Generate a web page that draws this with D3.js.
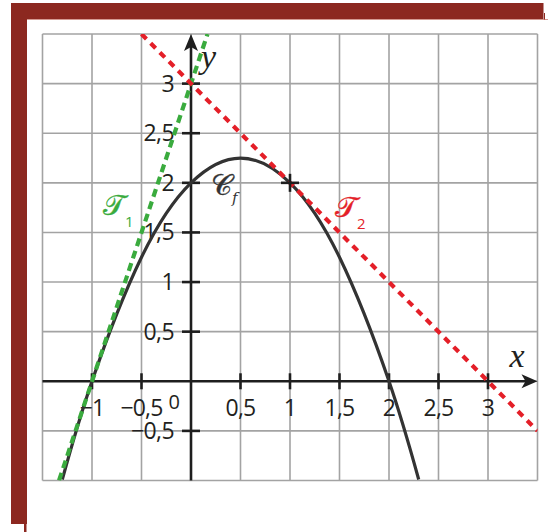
<!DOCTYPE html>
<html>
<head>
<meta charset="utf-8">
<script src="https://cdn.jsdelivr.net/npm/d3@7"></script>
<style>
  html, body { margin: 0; padding: 0; background: #fff; }
  svg { display: block; }
</style>
</head>
<body>
<div id="chart"></div>
<script>
// values
var gridX = [-1.5, -1, -0.5, 0, 0.5, 1, 1.5, 2, 2.5, 3, 3.5];
var gridY = [-1, -0.5, 0, 0.5, 1, 1.5, 2, 2.5, 3, 3.5];
var xTicks = [-1, -0.5, 0.5, 1, 1.5, 2, 2.5, 3];
var xTickLabels = ["−1", "−0,5", "0,5", "1", "1,5", "2", "2,5", "3"];
var yTicks = [-0.5, 0.5, 1, 1.5, 2, 2.5, 3];
var yTickLabels = ["−0,5", "0,5", "1", "1,5", "2", "2,5", "3"];

// curve C_f
var curveX = [-1.3, -1, -0.5, 0, 0.5, 1, 1.5, 2, 2.3];
var curveY = [-0.99, 0, 1.25, 2, 2.25, 2, 1.25, 0, -0.99];
// tangent T1 (green) and T2 (red)
var t1X = [-1.333, 0.167];
var t1Y = [-1, 3.5];
var t2X = [-0.5, 3.5];
var t2Y = [3.5, -0.5];
// marked point
var markX = [1];
var markY = [2];

var width = 548, height = 532;

var svg = d3.select("#chart").append("svg")
    .attr("width", width)
    .attr("height", height);

// frame (dark red corner)
var frameColor = "#8c2820";
svg.append("rect").attr("x", 11).attr("y", 3).attr("width", 532.5).attr("height", 16).attr("fill", frameColor);
svg.append("rect").attr("x", 11).attr("y", 3).attr("width", 16).attr("height", 521).attr("fill", frameColor);
svg.append("rect").attr("x", 24).attr("y", 524).attr("width", 2.5).attr("height", 8).attr("fill", frameColor);
svg.append("line").attr("x1", 27).attr("x2", 548).attr("y1", 19.5).attr("y2", 19.5)
    .attr("stroke", "#d49a92").attr("stroke-width", 1);
svg.append("line").attr("x1", 544.5).attr("x2", 544.5).attr("y1", 13).attr("y2", 19.5)
    .attr("stroke", "#8c2820").attr("stroke-width", 1);

// scales
var x = d3.scaleLinear().domain([-1.5, 3.5]).range([42.5, 537.5]);
var y = d3.scaleLinear().domain([-1, 3.5]).range([480.5, 34]);

var chart = svg.append("g");

// grid
chart.selectAll(".gx").data(gridX).enter().append("line")
    .attr("x1", d => x(d)).attr("x2", d => x(d))
    .attr("y1", y(-1)).attr("y2", y(3.5))
    .attr("stroke", "#a3a3a3").attr("stroke-width", 1.6);
chart.selectAll(".gy").data(gridY).enter().append("line")
    .attr("y1", d => y(d)).attr("y2", d => y(d))
    .attr("x1", x(-1.5)).attr("x2", x(3.5))
    .attr("stroke", "#a3a3a3").attr("stroke-width", 1.6);

// clip to the grid
svg.append("clipPath").attr("id", "plot")
  .append("rect")
    .attr("x", x(-1.5)).attr("y", y(3.5))
    .attr("width", x(3.5) - x(-1.5)).attr("height", y(-1) - y(3.5));

var axisColor = "#1e1e1e";

// axes
chart.append("line")
    .attr("x1", x(-1.5)).attr("x2", x(3.5) - 8)
    .attr("y1", y(0)).attr("y2", y(0))
    .attr("stroke", axisColor).attr("stroke-width", 2.6);
chart.append("line")
    .attr("x1", x(0)).attr("x2", x(0))
    .attr("y1", y(-1)).attr("y2", y(3.5) + 8)
    .attr("stroke", axisColor).attr("stroke-width", 2.6);

// arrow heads
var xa = x(3.5), ya = y(0);
chart.append("path")
    .attr("d", `M${xa},${ya} L${xa - 16},${ya - 7} L${xa - 12},${ya} L${xa - 16},${ya + 7} Z`)
    .attr("fill", axisColor);
var xb = x(0), yb = y(3.5);
chart.append("path")
    .attr("d", `M${xb},${yb} L${xb - 7},${yb + 17} L${xb},${yb + 13} L${xb + 7},${yb + 17} Z`)
    .attr("fill", axisColor);

// tick marks
chart.selectAll(".tx").data(xTicks).enter().append("line")
    .attr("x1", d => x(d)).attr("x2", d => x(d))
    .attr("y1", y(0) - 8).attr("y2", y(0) + 8)
    .attr("stroke", axisColor).attr("stroke-width", 2.6);
chart.selectAll(".ty").data(yTicks).enter().append("line")
    .attr("y1", d => y(d)).attr("y2", d => y(d))
    .attr("x1", x(0) - 9).attr("x2", x(0) + 9)
    .attr("stroke", axisColor).attr("stroke-width", 2.6);

// tick labels
var labelFont = "'Open Sans', sans-serif";
chart.selectAll(".lx").data(xTicks).enter().append("text")
    .attr("x", d => x(d)).attr("y", y(0) + 35)
    .attr("text-anchor", "middle")
    .attr("font-family", labelFont).attr("font-size", 23)
    .attr("letter-spacing", -0.8)
    .attr("fill", "#231f20")
    .text((d, i) => xTickLabels[i]);
chart.selectAll(".ly").data(yTicks).enter().append("text")
    .attr("x", x(0) - 17).attr("y", d => y(d) + 8)
    .attr("text-anchor", "end")
    .attr("font-family", labelFont).attr("font-size", 23)
    .attr("letter-spacing", -0.6)
    .attr("fill", "#231f20")
    .text((d, i) => yTickLabels[i]);
chart.append("text")
    .attr("x", x(0) - 11).attr("y", y(0) + 28)
    .attr("text-anchor", "end")
    .attr("font-family", labelFont).attr("font-size", 20)
    .attr("fill", "#231f20")
    .text("0");

// axis names
chart.append("text")
    .attr("x", x(3.5) - 28).attr("y", y(0) - 14)
    .attr("font-family", "'Liberation Serif', serif").attr("font-style", "italic")
    .attr("font-size", 34).attr("fill", "#231f20")
    .text("x");
chart.append("text")
    .attr("x", x(0) + 10).attr("y", y(3.5) + 34)
    .attr("font-family", "'Liberation Serif', serif").attr("font-style", "italic")
    .attr("font-size", 34).attr("fill", "#231f20")
    .text("y");

var plot = chart.append("g").attr("clip-path", "url(#plot)");

// curve
var curvePts = curveX.map((d, i) => [d, curveY[i]]);
plot.append("path")
    .datum(curvePts)
    .attr("d", d3.line().x(d => x(d[0])).y(d => y(d[1])).curve(d3.curveNatural))
    .attr("fill", "none")
    .attr("stroke", "#333333")
    .attr("stroke-width", 3.2);

// tangents
var lineGen = d3.line().x(d => x(d[0])).y(d => y(d[1]));
plot.append("path")
    .datum(t1X.map((d, i) => [d, t1Y[i]]))
    .attr("d", lineGen)
    .attr("stroke", "#3aab3e").attr("stroke-width", 4.2)
    .attr("stroke-dasharray", "8,5").attr("fill", "none");
plot.append("path")
    .datum(t2X.map((d, i) => [d, t2Y[i]]))
    .attr("d", lineGen)
    .attr("stroke", "#e41f28").attr("stroke-width", 4.2)
    .attr("stroke-dasharray", "7,6").attr("fill", "none");

// marked point
markX.forEach(function(mx, i) {
    var px = x(mx), py = y(markY[i]);
    chart.append("line").attr("x1", px - 9).attr("x2", px + 9).attr("y1", py).attr("y2", py)
        .attr("stroke", "#1e1e1e").attr("stroke-width", 2.6);
    chart.append("line").attr("x1", px).attr("x2", px).attr("y1", py - 9).attr("y2", py + 9)
        .attr("stroke", "#1e1e1e").attr("stroke-width", 2.6);
});

// curve and tangent names
var scriptFont = "'DejaVu Serif', 'DejaVu Sans', serif";
var cf = chart.append("text").attr("x", 211).attr("y", 195)
    .attr("font-family", scriptFont).attr("font-size", 29).attr("fill", "#333")
    .attr("stroke", "#333").attr("stroke-width", 0.35);
cf.append("tspan").text("𝒞");
cf.append("tspan").attr("font-size", 15).attr("dy", 8).attr("font-style", "italic")
    .attr("stroke-width", 0).text("f");

var tt1 = chart.append("text").attr("x", 103).attr("y", 215)
    .attr("font-family", scriptFont).attr("font-size", 29).attr("fill", "#3aab3e")
    .attr("stroke", "#3aab3e").attr("stroke-width", 0.35);
tt1.append("tspan").text("𝒯");
tt1.append("tspan").attr("font-family", labelFont).attr("font-size", 15).attr("dy", 12)
    .attr("dx", 0).attr("stroke-width", 0).text("1");

var tt2 = chart.append("text").attr("x", 335).attr("y", 217)
    .attr("font-family", scriptFont).attr("font-size", 29).attr("fill", "#e41f28")
    .attr("stroke", "#e41f28").attr("stroke-width", 0.35);
tt2.append("tspan").text("𝒯");
tt2.append("tspan").attr("font-family", labelFont).attr("font-size", 15).attr("dy", 12)
    .attr("dx", 0).attr("stroke-width", 0).text("2");
</script>
</body>
</html>
